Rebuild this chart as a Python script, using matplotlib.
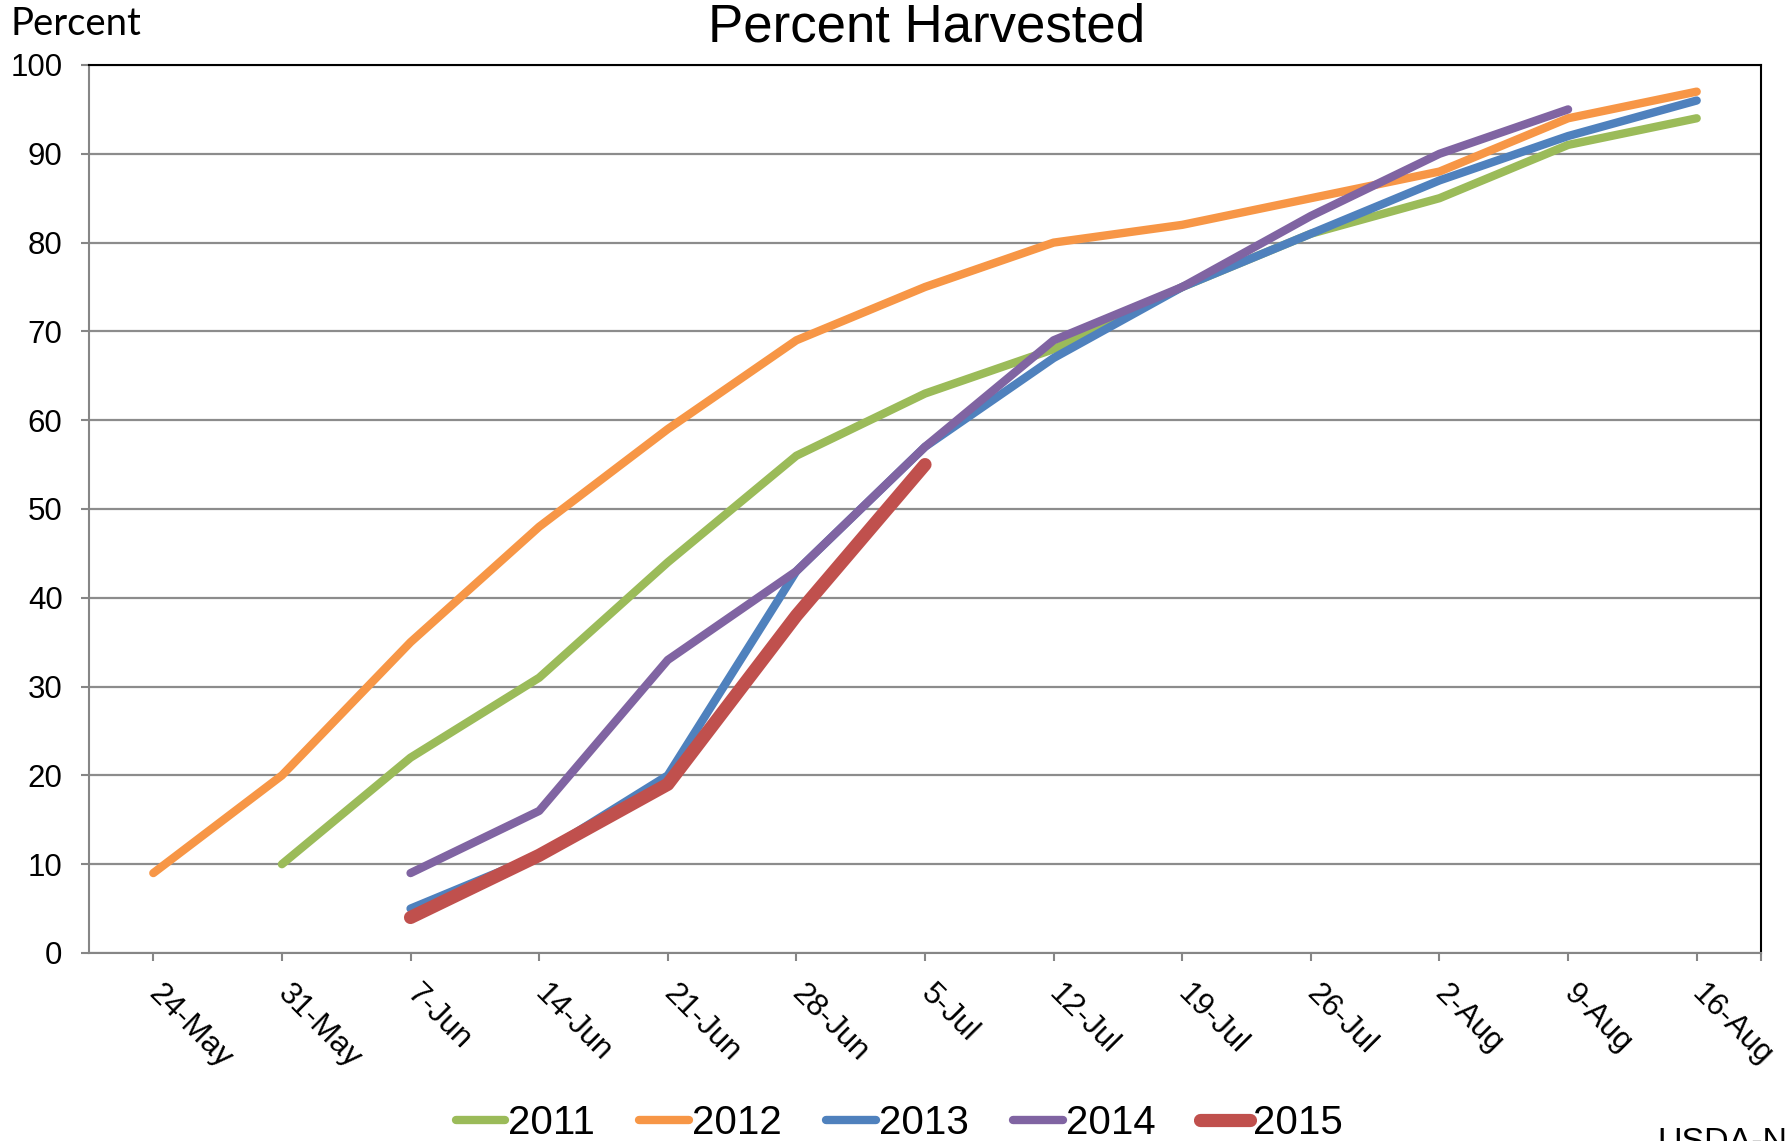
import numpy as np
import matplotlib
matplotlib.use("Agg")
import matplotlib.pyplot as plt
from matplotlib.lines import Line2D

nan = np.nan
weeks = ["24-May", "31-May", "7-Jun", "14-Jun", "21-Jun", "28-Jun", "5-Jul",
         "12-Jul", "19-Jul", "26-Jul", "2-Aug", "9-Aug", "16-Aug"]
y2011 = [nan, 10, 22, 31, 44, 56, 63, 68, 75, 81, 85, 91, 94]
y2012 = [9, 20, 35, 48, 59, 69, 75, 80, 82, 85, 88, 94, 97]
y2013 = [nan, nan, 5, 11, 20, 43, 57, 67, 75, 81, 87, 92, 96]
y2014 = [nan, nan, 9, 16, 33, 43, 57, 69, 75, 83, 90, 95, nan]
y2015 = [nan, nan, 4, 11, 19, 38, 55, nan, nan, nan, nan, nan, nan]
years = ["2011", "2012", "2013", "2014", "2015"]
series = [y2011, y2012, y2013, y2014, y2015]
colors = ["#9BBB59", "#F79646", "#4F81BD", "#8064A2", "#C0504D"]
widths = [6, 6, 6, 6, 9.5]

W, H = 1789, 1141
fig = plt.figure(figsize=(W / 100, H / 100), dpi=100)
ax = fig.add_axes([89 / W, 1 - 953 / H, (1761 - 89) / W, (953 - 65) / H])

x = np.arange(len(weeks))
for vals, c, lw, lab in zip(series, colors, widths, years):
    ax.plot(x, vals, color=c, lw=lw, solid_capstyle="round",
            solid_joinstyle="round", label=lab, zorder=3)

ax.set_xlim(-0.5, len(weeks) - 0.5)
ax.set_ylim(0, 100)
ax.set_yticks(np.arange(0, 101, 10))
ax.yaxis.grid(True, color="#8C8C8C", lw=1.6, zorder=1)
ax.set_axisbelow(True)

tick_font = dict(family=["Liberation Sans", "DejaVu Sans"], size=22.5)
ax.set_yticklabels([str(v) for v in range(0, 101, 10)], fontdict=tick_font)
ax.set_xticks(x)
ax.set_xticklabels(weeks, fontdict=tick_font, rotation=-45, ha="left",
                   va="center", rotation_mode="anchor")
ax.set_xticks([len(weeks) - 0.5], minor=True)
ax.tick_params(axis="y", length=6, width=1.5, color="#868686", pad=13)
ax.tick_params(axis="x", which="both", length=6, width=1.5, color="#868686", pad=20)

for s in ["left", "bottom"]:
    ax.spines[s].set_color("#868686")
    ax.spines[s].set_linewidth(1.5)
for s in ["top", "right"]:
    ax.spines[s].set_color("black")
    ax.spines[s].set_linewidth(1.5)

fig.text(927 / W, 1 - 41 / H, "Percent Harvested", ha="center", va="baseline",
         family=["Liberation Sans", "DejaVu Sans"], size=38)
fig.text(11 / W, 1 - 35 / H, "Percent", ha="left", va="baseline",
         family=["Lato", "DejaVu Sans"], size=27.5)
fig.text(1657 / W, 1 - 1151 / H, "USDA-NASS", ha="left", va="baseline",
         family=["Liberation Sans", "DejaVu Sans"], size=24.5)

handles = [Line2D([0], [0], color=c, lw=lw, solid_capstyle="round")
           for c, lw in zip(colors, widths)]
leg = fig.legend(handles, years, loc="center", ncol=5,
                 bbox_to_anchor=(899 / W, 1 - 1123 / H), frameon=False,
                 prop=dict(family=["Liberation Sans", "DejaVu Sans"], size=29),
                 handlelength=1.24, handletextpad=0.07, columnspacing=1.1,
                 borderpad=0, borderaxespad=0)

fig.savefig("out.png", dpi=100)
